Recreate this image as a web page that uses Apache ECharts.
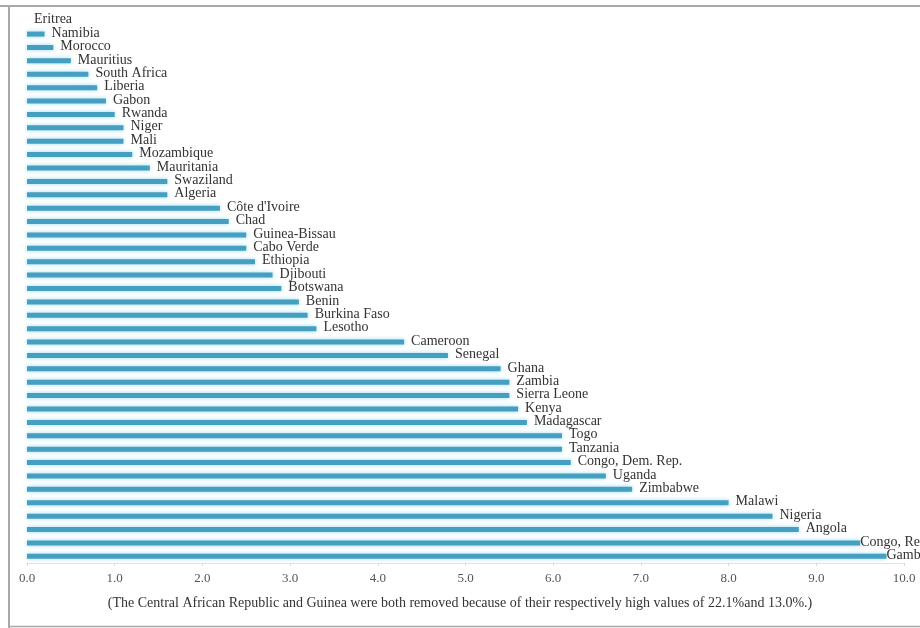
<!DOCTYPE html>
<html>
<head>
<meta charset="utf-8">
<script src="https://cdn.jsdelivr.net/npm/echarts@6/dist/echarts.min.js"></script>
<style>
  html, body { margin: 0; padding: 0; background: #fff; }
  #chart { width: 920px; height: 628px; }
</style>
</head>
<body>
<div id="chart"></div>
<script>
// Countries, top to bottom
const countries = [
  'Eritrea', 'Namibia', 'Morocco', 'Mauritius', 'South Africa', 'Liberia', 'Gabon',
  'Rwanda', 'Niger', 'Mali', 'Mozambique', 'Mauritania', 'Swaziland', 'Algeria',
  "Côte d'Ivoire", 'Chad', 'Guinea-Bissau', 'Cabo Verde', 'Ethiopia', 'Djibouti',
  'Botswana', 'Benin', 'Burkina Faso', 'Lesotho', 'Cameroon', 'Senegal', 'Ghana',
  'Zambia', 'Sierra Leone', 'Kenya', 'Madagascar', 'Togo', 'Tanzania',
  'Congo, Dem. Rep.', 'Uganda', 'Zimbabwe', 'Malawi', 'Nigeria', 'Angola',
  'Congo, Rep.', 'Gambia'
];

// Value for each country (%)
const values = [
  0.0, 0.2, 0.3, 0.5, 0.7, 0.8, 0.9,
  1.0, 1.1, 1.1, 1.2, 1.4, 1.6, 1.6,
  2.2, 2.3, 2.5, 2.5, 2.6, 2.8,
  2.9, 3.1, 3.2, 3.3, 4.3, 4.8, 5.4,
  5.5, 5.5, 5.6, 5.7, 6.1, 6.1,
  6.2, 6.6, 6.9, 8.0, 8.5, 8.8,
  9.5, 9.8
];

// Value axis ticks
const axisMin = 0;
const axisMax = 10;
const axisStep = 1;

const noteText = '(The Central African Republic and Guinea were both removed because of their respectively high values of 22.1%and 13.0%.)';

const serif = '"Liberation Serif", "DejaVu Serif", serif';
const frameColor = '#a8a8a8';

// Labels of the longest bars sit tight against the bar end
const barData = values.map(v => (v >= 9.5 ? { value: v, label: { distance: 0 } } : v));

const chart = echarts.init(document.getElementById('chart'), null, { renderer: 'canvas' });

chart.setOption({
  animation: false,
  backgroundColor: '#ffffff',
  grid: { left: 27, right: 16, top: 14, bottom: 65, containLabel: false },
  xAxis: {
    type: 'value',
    min: axisMin,
    max: axisMax,
    interval: axisStep,
    axisLine: { show: true, lineStyle: { color: '#e2e2e2', width: 1 } },
    axisTick: { show: true, length: 3, lineStyle: { color: '#d8d8d8' } },
    splitLine: { show: false },
    axisLabel: {
      margin: 9,
      color: '#555',
      fontFamily: serif,
      fontSize: 13,
      formatter: v => v.toFixed(1)
    }
  },
  yAxis: {
    type: 'category',
    data: countries,
    inverse: true,
    axisLine: { show: false },
    axisTick: { show: false },
    axisLabel: { show: false }
  },
  series: [{
    type: 'bar',
    data: barData,
    barWidth: 5,
    itemStyle: {
      color: '#459fc0',
      shadowColor: 'rgba(150, 215, 238, 0.95)',
      shadowBlur: 4
    },
    label: {
      show: true,
      position: 'right',
      distance: 7,
      offset: [0, -1],
      formatter: p => countries[p.dataIndex],
      color: '#333',
      fontFamily: serif,
      fontSize: 14
    }
  }],
  graphic: [
    { type: 'line', silent: true, shape: { x1: 0, y1: 6, x2: 920, y2: 6 },
      style: { stroke: frameColor, lineWidth: 2 } },
    { type: 'line', silent: true, shape: { x1: 9, y1: 5, x2: 9, y2: 628 },
      style: { stroke: frameColor, lineWidth: 2 } },
    { type: 'line', silent: true, shape: { x1: 9, y1: 626.5, x2: 920, y2: 626.5 },
      style: { stroke: frameColor, lineWidth: 1.5 } },
    { type: 'text', silent: true, left: 'center', top: 596,
      style: { text: noteText, fill: '#333', font: '14px ' + serif } }
  ]
});
</script>
</body>
</html>
